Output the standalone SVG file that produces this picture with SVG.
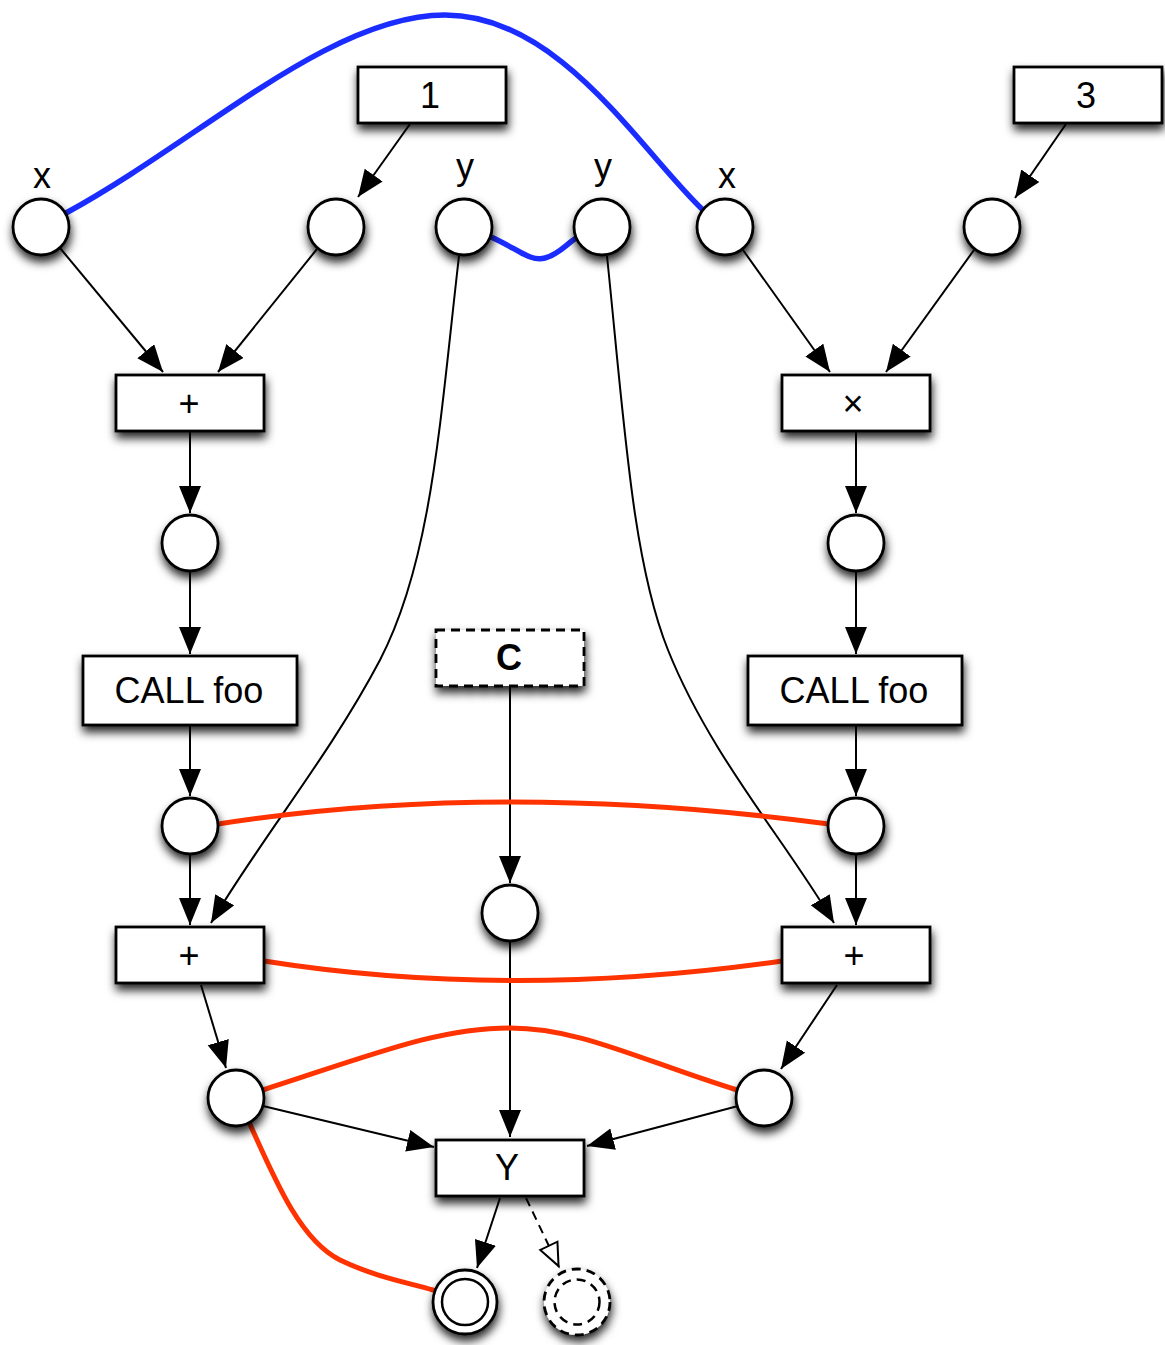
<svg xmlns="http://www.w3.org/2000/svg" width="1165" height="1345" viewBox="0 0 1165 1345">
  <style>
    .node { fill: #fff; stroke: #000; stroke-width: 2.8; filter: url(#shadow); }
    .dash { stroke-dasharray: 9 6; }
    .lbl { font-family: "Liberation Sans", Arial, sans-serif; font-size: 36px; fill: #000; text-anchor: middle; }
    .edge { fill: none; stroke: #000; stroke-width: 2; }
    .arr { marker-end: url(#arrow); }
    .blue { fill: none; stroke: #1a2cff; stroke-width: 5.5; stroke-linecap: round; }
    .red { fill: none; stroke: #ff3300; stroke-width: 5; stroke-linecap: round; }
  </style>
  <defs>
    <filter id="shadow" x="-30%" y="-30%" width="160%" height="180%">
      <feDropShadow dx="1" dy="6" stdDeviation="5" flood-color="#000" flood-opacity="0.85"/>
    </filter>
    <marker id="arrow" markerUnits="userSpaceOnUse" markerWidth="30" markerHeight="24" refX="27" refY="11" orient="auto">
      <path d="M0,0 L27,11 L0,22 z" fill="#000"/>
    </marker>
    <marker id="open" markerUnits="userSpaceOnUse" markerWidth="28" markerHeight="24" refX="25" refY="11" orient="auto">
      <path d="M1.5,1.5 L24,11 L1.5,20.5 z" fill="#fff" stroke="#000" stroke-width="2"/>
    </marker>
  </defs>
  <rect width="1165" height="1345" fill="#fff"/>

  <!-- connectors -->
  <g id="connectors">
    <line class="edge arr" x1="410" y1="124" x2="358" y2="197"/>
    <line class="edge arr" x1="1066" y1="124" x2="1015" y2="198"/>
    <line class="edge arr" x1="60" y1="248" x2="163" y2="372"/>
    <line class="edge arr" x1="317" y1="249" x2="218" y2="372"/>
    <line class="edge arr" x1="743" y1="250" x2="830" y2="372"/>
    <line class="edge arr" x1="974" y1="250" x2="886" y2="372"/>
    <line class="edge arr" x1="190" y1="432" x2="190" y2="513"/>
    <line class="edge arr" x1="190" y1="572" x2="190" y2="654"/>
    <line class="edge arr" x1="190" y1="726" x2="190" y2="796"/>
    <line class="edge arr" x1="190" y1="855" x2="190" y2="925"/>
    <line class="edge arr" x1="856" y1="432" x2="856" y2="513"/>
    <line class="edge arr" x1="856" y1="572" x2="856" y2="654"/>
    <line class="edge arr" x1="856" y1="726" x2="856" y2="796"/>
    <line class="edge arr" x1="856" y1="855" x2="856" y2="925"/>
    <path class="edge arr" d="M459,256 C440,420 432,560 380,660 C330,755 260,840 211,923"/>
    <path class="edge arr" d="M607,256 C624,420 632,560 668,650 C710,755 785,840 834,923"/>
    <line class="edge arr" x1="510" y1="686" x2="510" y2="883"/>
    <line class="edge arr" x1="510" y1="942" x2="510" y2="1137"/>
    <line class="edge arr" x1="201" y1="985" x2="226" y2="1068"/>
    <line class="edge arr" x1="837" y1="985" x2="781" y2="1069"/>
    <line class="edge arr" x1="263" y1="1106" x2="434" y2="1147"/>
    <line class="edge arr" x1="738" y1="1106" x2="587" y2="1146"/>
    <line class="edge arr" x1="500" y1="1198" x2="477" y2="1268"/>
    <line class="edge dash" x1="526" y1="1198" x2="559" y2="1267" marker-end="url(#open)"/>

    <path class="blue" d="M66,213 C200,140 330,15 445,15 C560,15 640,150 703,210"/>
    <path class="blue" d="M491,237 C518,249 530,262 545,258 C560,254 568,242 578,237"/>
    <path class="red" d="M218,824 Q500,780 829,824"/>
    <path class="red" d="M264,961 Q510,1000 782,961"/>
    <path class="red" d="M263,1090 C380,1052 440,1028 510,1028 C580,1028 640,1060 737,1090"/>
    <path class="red" d="M249,1122 C275,1180 300,1240 340,1260 C375,1277 410,1283 433,1290"/>
  </g>

  <!-- constants -->
  <g id="const-1"><rect class="node" x="358" y="67" width="148" height="56"/><text class="lbl" x="430" y="108" font-size="35">1</text></g>
  <g id="const-3"><rect class="node" x="1014" y="67" width="148" height="56"/><text class="lbl" x="1086" y="108" font-size="35">3</text></g>

  <!-- top ports -->
  <g id="x-left"><circle class="node" cx="41" cy="227" r="28"/><text class="lbl" x="42" y="188" font-size="32">x</text></g>
  <g id="one-in"><circle class="node" cx="336" cy="227" r="28"/></g>
  <g id="y-left"><circle class="node" cx="464" cy="227" r="28"/><text class="lbl" x="465" y="179" font-size="32">y</text></g>
  <g id="y-right"><circle class="node" cx="602" cy="227" r="28"/><text class="lbl" x="603" y="179" font-size="32">y</text></g>
  <g id="x-right"><circle class="node" cx="725" cy="227" r="28"/><text class="lbl" x="727" y="188" font-size="32">x</text></g>
  <g id="three-in"><circle class="node" cx="992" cy="227" r="28"/></g>

  <!-- left chain -->
  <g id="add-left"><rect class="node" x="116" y="375" width="148" height="56"/><text class="lbl" x="189" y="416">+</text></g>
  <g id="sum-left"><circle class="node" cx="190" cy="543" r="28"/></g>
  <g id="call-left"><rect class="node" x="83" y="656" width="214" height="69"/><text class="lbl" x="189" y="703">CALL foo</text></g>
  <g id="ret-left"><circle class="node" cx="190" cy="826" r="28"/></g>
  <g id="add2-left"><rect class="node" x="116" y="927" width="148" height="56"/><text class="lbl" x="189" y="968">+</text></g>
  <g id="out-left"><circle class="node" cx="236" cy="1098" r="28"/></g>

  <!-- right chain -->
  <g id="mul-right"><rect class="node" x="782" y="375" width="148" height="56"/><text class="lbl" x="853" y="416">×</text></g>
  <g id="prod-right"><circle class="node" cx="856" cy="543" r="28"/></g>
  <g id="call-right"><rect class="node" x="748" y="656" width="214" height="69"/><text class="lbl" x="854" y="703">CALL foo</text></g>
  <g id="ret-right"><circle class="node" cx="856" cy="826" r="28"/></g>
  <g id="add2-right"><rect class="node" x="782" y="927" width="148" height="56"/><text class="lbl" x="854" y="968">+</text></g>
  <g id="out-right"><circle class="node" cx="764" cy="1098" r="28"/></g>

  <!-- condition and merge -->
  <g id="cond"><rect class="node dash" x="436" y="630" width="148" height="56"/><text class="lbl" x="509" y="670" font-weight="bold">C</text></g>
  <g id="cond-val"><circle class="node" cx="510" cy="913" r="28"/></g>
  <g id="merge-y"><rect class="node" x="436" y="1140" width="148" height="56"/><text class="lbl" x="507" y="1180" font-size="34">Y</text></g>

  <!-- results -->
  <g id="result"><circle class="node" cx="465" cy="1302" r="32" stroke-width="3"/><circle cx="465" cy="1302" r="23" fill="none" stroke="#000" stroke-width="2.5"/></g>
  <g id="result-alt"><circle class="node dash" cx="577" cy="1302" r="33" stroke-width="2.5"/><circle cx="577" cy="1302" r="22.5" fill="none" stroke="#000" stroke-width="2.5" stroke-dasharray="9 6"/></g>
</svg>
